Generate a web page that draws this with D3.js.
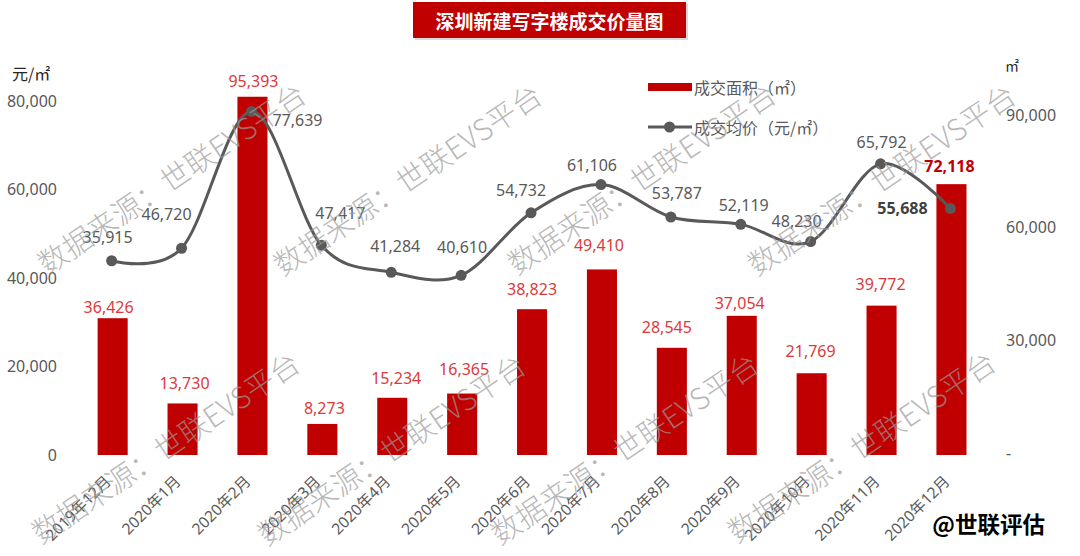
<!DOCTYPE html>
<html><head><meta charset="utf-8">
<script src="https://cdn.jsdelivr.net/npm/d3@7"></script>
<style>
html,body{margin:0;padding:0;background:#fff;}
svg{display:block;}
text{font-family:"Noto Sans","Noto Sans CJK SC",sans-serif;}
</style></head><body>
<svg id="chart" width="1080" height="556"></svg>
<script>
const title = "深圳新建写字楼成交价量图";
const categories = ["2019年12月","2020年1月","2020年2月","2020年3月","2020年4月","2020年5月","2020年6月","2020年7月","2020年8月","2020年9月","2020年10月","2020年11月","2020年12月"];
const areaValues = [36426,13730,95393,8273,15234,16365,38823,49410,28545,37054,21769,39772,72118];
const priceValues = [43900,46720,77639,47417,41284,40610,54732,61106,53787,52119,48230,65792,55688];
const priceLabels = ["35,915","46,720","77,639","47,417","41,284","40,610","54,732","61,106","53,787","52,119","48,230","65,792","55,688"];
const leftTicks = [0,20000,40000,60000,80000];
const rightTicks = [0,30000,60000,90000];
const seriesNames = ["成交面积（㎡）","成交均价（元/㎡）"];
const leftUnit = "元/㎡";
const rightUnit = "㎡";
const watermarkText = "数据来源：世联EVS平台";
const brandText = "@世联评估";

const svg = d3.select("#chart");

const x = d3.scaleBand().domain(categories).range([77.7, 986.4]).paddingInner(0.57).paddingOuter(0.285);
const yL = d3.scaleLinear().domain([0, 80000]).range([455, 101]);
const yR = d3.scaleLinear().domain([0, 90000]).range([455, 117]);
const cx = c => x(c) + x.bandwidth() / 2;

const barColor = "#C00000", lineColor = "#595959", barLabelColor = "#DC3A3A", axisColor = "#595959";

// Title
svg.append("rect").attr("x", 415).attr("y", 4).attr("width", 273).attr("height", 36).attr("fill", "#d9d9d9");
svg.append("rect").attr("x", 413).attr("y", 2).attr("width", 273).attr("height", 36).attr("fill", barColor);
svg.append("text").attr("x", 549.5).attr("y", 20).attr("text-anchor", "middle").attr("dominant-baseline", "central")
  .attr("fill", "#fff").attr("font-size", 19).attr("font-weight", "bold")
  .style("font-family", '"Noto Sans CJK SC",sans-serif').text(title);

// Left axis
const gL = svg.append("g").attr("transform", "translate(57,0)")
  .call(d3.axisLeft(yL).tickValues(leftTicks).tickFormat(d3.format(",")).tickSize(0).tickPadding(0));
gL.select(".domain").remove();
gL.selectAll("text").attr("fill", axisColor).attr("font-size", 16).style("font-family", '"Noto Sans",sans-serif');

// Right axis
const gR = svg.append("g").attr("transform", "translate(1006,-2)")
  .call(d3.axisRight(yR).tickValues(rightTicks).tickFormat(d => d === 0 ? "-" : d3.format(",")(d)).tickSize(0).tickPadding(0));
gR.select(".domain").remove();
gR.selectAll("text").attr("fill", axisColor).attr("font-size", 16).style("font-family", '"Noto Sans",sans-serif');

// unit labels
svg.append("text").attr("x", 12).attr("y", 73).attr("dominant-baseline", "central").attr("fill", "#262626")
  .attr("font-size", 16).style("font-family", '"Noto Sans CJK SC",sans-serif').text(leftUnit);
svg.append("text").attr("x", 1005).attr("y", 65).attr("dominant-baseline", "central").attr("fill", "#262626")
  .attr("font-size", 14).style("font-family", '"Noto Sans CJK SC",sans-serif').text(rightUnit);

// X labels
svg.append("g").selectAll("text").data(categories).join("text")
  .attr("transform", d => `translate(${cx(d) - (d.length > 8 ? 11 : 5)},478) rotate(-45)`)
  .attr("text-anchor", "end").attr("dominant-baseline", "central")
  .attr("fill", axisColor).attr("font-size", 15.5).text(d => d);

// Bars
svg.append("g").selectAll("rect").data(categories).join("rect")
  .attr("x", d => x(d)).attr("width", x.bandwidth())
  .attr("y", (d, i) => yR(areaValues[i])).attr("height", (d, i) => yR(0) - yR(areaValues[i]))
  .attr("fill", barColor);

// Bar labels
const barNudge = [[-4,-11],[2,-20],[1,-16],[2,-16],[4,-20],[2,-25],[0,-20],[-3,-24],[-5,-21],[-2,-13],[-1,-22],[-1,-22],[-2,-18]];
svg.append("g").selectAll("text").data(categories).join("text")
  .attr("x", (d, i) => cx(d) + barNudge[i][0])
  .attr("y", (d, i) => yR(areaValues[i]) + barNudge[i][1])
  .attr("text-anchor", "middle").attr("dominant-baseline", "central")
  .attr("font-size", 16)
  .attr("font-weight", (d, i) => i === categories.length - 1 ? "bold" : "normal")
  .attr("fill", (d, i) => i === categories.length - 1 ? barColor : barLabelColor)
  .text((d, i) => d3.format(",")(areaValues[i]));

// Line
const pts = categories.map((c, i) => [cx(c) - 1, yL(priceValues[i])]);
svg.append("path").attr("d", d3.line().curve(d3.curveCardinal.tension(0))(pts))
  .attr("fill", "none").attr("stroke", lineColor).attr("stroke-width", 3);
svg.append("g").selectAll("circle").data(pts).join("circle")
  .attr("cx", d => d[0]).attr("cy", d => d[1]).attr("r", 5.5).attr("fill", lineColor);

// Line labels
const lineNudge = [[-4,-24],[-15,-34],[46,9],[19,-32],[4,-26],[1,-28],[-10,-23],[-9,-20],[6,-24],[3,-19],[-14,-21],[1,-22],[-48,-1]];
svg.append("g").selectAll("text").data(pts).join("text")
  .attr("x", (d, i) => d[0] + lineNudge[i][0]).attr("y", (d, i) => d[1] + lineNudge[i][1])
  .attr("text-anchor", "middle").attr("dominant-baseline", "central").attr("font-size", 16)
  .attr("font-weight", (d, i) => i === pts.length - 1 ? "bold" : "normal")
  .attr("fill", (d, i) => i === pts.length - 1 ? "#404040" : lineColor)
  .text((d, i) => priceLabels[i]);

// Legend
const lg = svg.append("g");
lg.append("rect").attr("x", 648).attr("y", 83).attr("width", 44).attr("height", 8).attr("fill", barColor);
lg.append("text").attr("x", 694).attr("y", 87).attr("dominant-baseline", "central").attr("font-size", 16)
  .attr("fill", axisColor).style("font-family", '"Noto Sans CJK SC",sans-serif').text(seriesNames[0]);
lg.append("line").attr("x1", 648).attr("x2", 692).attr("y1", 127).attr("y2", 127).attr("stroke", lineColor).attr("stroke-width", 3);
lg.append("circle").attr("cx", 669.5).attr("cy", 127).attr("r", 5.5).attr("fill", lineColor);
lg.append("text").attr("x", 694).attr("y", 127).attr("dominant-baseline", "central").attr("font-size", 16)
  .attr("fill", axisColor).style("font-family", '"Noto Sans CJK SC",sans-serif').text(seriesNames[1]);

// Watermarks
const wmPos = [[52,257],[288,258],[522,257],[762,258],[46,526],[272,528],[505,527],[742,525]];
const ang = 34, fs = 29.5;
const ca = Math.cos(ang * Math.PI / 180), sa = Math.sin(ang * Math.PI / 180);
svg.append("g").selectAll("text").data(wmPos).join("text")
  .attr("transform", d => `translate(${d[0] - fs / 2 * ca},${d[1] + fs / 2 * sa}) rotate(${-ang})`)
  .attr("dominant-baseline", "central").attr("font-size", fs)
  .attr("fill", "#999999").attr("fill-opacity", 0.7)
  .style("font-family", '"Noto Sans CJK SC",sans-serif').style("font-weight", 300)
  .text(watermarkText);

// Brand
svg.append("text").attr("x", 1045).attr("y", 523).attr("text-anchor", "end").attr("dominant-baseline", "central")
  .attr("font-size", 22.5).attr("font-weight", "bold").attr("fill", "#000")
  .style("font-family", '"Noto Sans CJK SC",sans-serif').text(brandText);
</script>
</body></html>
